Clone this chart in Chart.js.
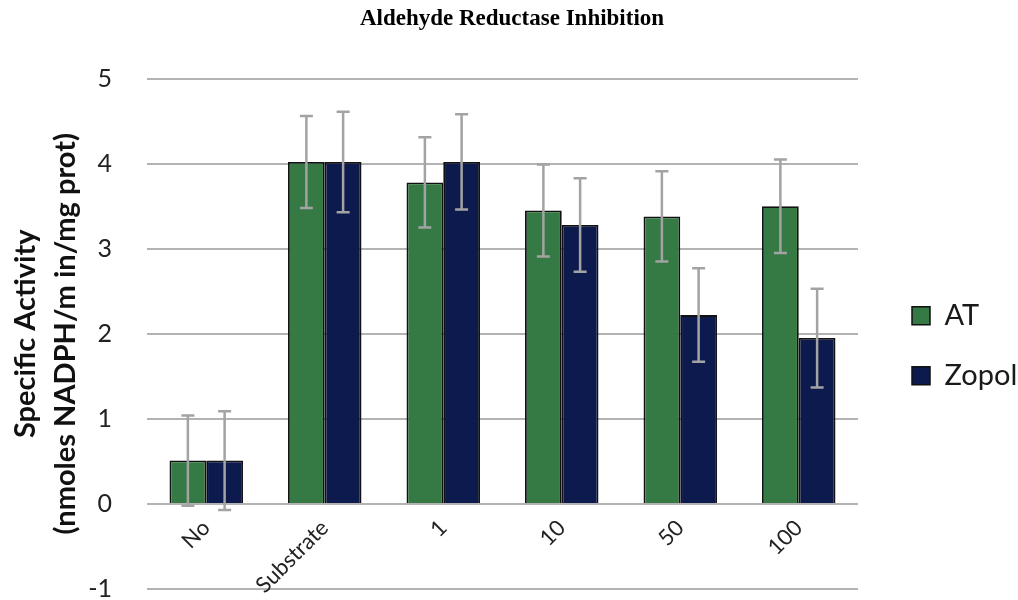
<!DOCTYPE html>
<html>
<head>
<meta charset="utf-8">
<script src="https://cdn.jsdelivr.net/npm/chart.js@4.4.1/dist/chart.umd.min.js"></script>
<style>
  html, body { margin: 0; padding: 0; background: #fff; }
  #wrap { width: 1018px; height: 600px; }
</style>
</head>
<body>
<div id="wrap"><canvas id="chart"></canvas></div>
<script>
const categories = ['No', 'Substrate', '1', '10', '50', '100']
const atValues = [0.51, 4.02, 3.78, 3.45, 3.38, 3.50]
const zopolValues = [0.51, 4.02, 4.02, 3.28, 2.22, 1.95]
const atErrors = [0.53, 0.54, 0.53, 0.54, 0.53, 0.55]
const zopolErrors = [0.58, 0.59, 0.56, 0.55, 0.55, 0.58]
const yTicks = [-1, 0, 1, 2, 3, 4, 5]

const font = 'Lato, "Open Sans", sans-serif'

// error bars drawn on top of each bar
const errorBars = {
  id: 'errorBars',
  afterDatasetsDraw(chart) {
    const ctx = chart.ctx
    const yScale = chart.scales.y
    chart.data.datasets.forEach((ds, i) => {
      const meta = chart.getDatasetMeta(i)
      meta.data.forEach((bar, j) => {
        const v = ds.data[j]
        const e = ds.errors[j]
        const top = yScale.getPixelForValue(v + e)
        const bottom = yScale.getPixelForValue(v - e)
        ctx.save()
        ctx.strokeStyle = '#a3a3a3'
        ctx.lineWidth = 2.5
        ctx.beginPath()
        ctx.moveTo(bar.x, top)
        ctx.lineTo(bar.x, bottom)
        ctx.moveTo(bar.x - 6.5, top)
        ctx.lineTo(bar.x + 6.5, top)
        ctx.moveTo(bar.x - 6.5, bottom)
        ctx.lineTo(bar.x + 6.5, bottom)
        ctx.stroke()
        ctx.restore()
      })
    })
  }
}

new Chart(document.getElementById('chart'), {
  type: 'bar',
  data: {
    labels: categories,
    datasets: [
      {
        label: 'AT',
        data: atValues,
        errors: atErrors,
        backgroundColor: '#357a45',
        borderColor: '#111',
        borderWidth: 1.8
      },
      {
        label: 'Zopol',
        data: zopolValues,
        errors: zopolErrors,
        backgroundColor: '#0c1a4e',
        borderColor: '#111',
        borderWidth: 1.8
      }
    ]
  },
  options: {
    responsive: true,
    maintainAspectRatio: false,
    animation: false,
    categoryPercentage: 0.62,
    barPercentage: 1.0,
    layout: { padding: { left: 6, right: 0, bottom: 0, top: 0 } },
    plugins: {
      title: {
        display: true,
        text: 'Aldehyde Reductase Inhibition',
        color: '#000',
        font: { family: '"Liberation Serif", "Times New Roman", serif', size: 23, weight: 'bold' },
        padding: { top: 5, bottom: 46 }
      },
      legend: {
        position: 'right',
        fullSize: false,
        maxWidth: 137,
        title: { display: true, text: ' ', font: { size: 10 }, padding: 6 },
        labels: {
          boxWidth: 18,
          boxHeight: 18,
          padding: 31,
          color: '#1a1a1a',
          font: { family: font, size: 29 },
          generateLabels(chart) {
            return chart.data.datasets.map((ds, i) => ({
              text: ds.label,
              fillStyle: ds.backgroundColor,
              strokeStyle: '#111',
              fontColor: '#1a1a1a',
              lineWidth: 1.5,
              datasetIndex: i
            }))
          }
        }
      },
      tooltip: { enabled: false }
    },
    scales: {
      x: {
        position: { y: 0 },
        grid: { display: false },
        border: { display: false },
        ticks: {
          color: '#222',
          font: { family: font, size: 22 },
          minRotation: 45,
          maxRotation: 45,
          padding: 3
        }
      },
      y: {
        min: -1,
        max: 5,
        afterBuildTicks(scale) {
          scale.ticks = yTicks.map(v => ({ value: v }))
        },
        afterFit(scale) {
          scale.width = 141
          scale.paddingTop = 11
          scale.paddingBottom = 11
        },
        grid: { color: '#b3b3b3', lineWidth: 2, drawTicks: false },
        border: { display: false },
        ticks: {
          color: '#222',
          font: { family: font, size: 25, lineHeight: 0.9 },
          padding: 35
        },
        title: {
          display: true,
          text: ['Specific Activity', '(nmoles NADPH/m in/mg prot)'],
          color: '#111',
          font: { family: font, size: 29, weight: 'bold', lineHeight: 1.38 },
          padding: { top: 0, bottom: 10 }
        }
      },
      gap: {
        position: 'right',
        grid: { display: false },
        border: { display: false },
        ticks: { display: false },
        afterFit(scale) {
          scale.width = 23
        }
      }
    }
  },
  plugins: [errorBars]
})
</script>
</body>
</html>
